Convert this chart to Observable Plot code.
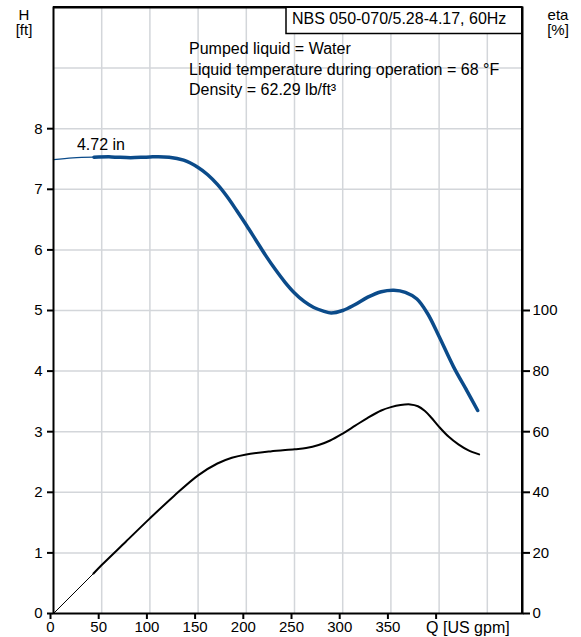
<!DOCTYPE html>
<html><head><meta charset="utf-8">
<script src="https://cdn.jsdelivr.net/npm/d3@7"></script>
<script src="https://cdn.jsdelivr.net/npm/@observablehq/plot@0.6"></script>
<style>
body{margin:0;background:#fff;}
#chart svg{display:block;}
</style></head><body><div id="chart"></div>
<script>
// ---- data ----
const headQThin = [0, 20, 42];
const headHThin = [7.49, 7.52, 7.53];
const headQ = [42, 60, 80, 100, 120, 135, 150, 160, 170, 180, 190, 200, 210, 220, 230, 240, 250, 260, 270, 280, 288, 300, 312, 326, 340, 353, 365, 377, 388, 400, 415, 429, 440];
const headH = [7.53, 7.535, 7.52, 7.535, 7.53, 7.48, 7.36, 7.24, 7.08, 6.88, 6.65, 6.41, 6.16, 5.91, 5.68, 5.47, 5.29, 5.15, 5.05, 4.99, 4.96, 5.0, 5.09, 5.22, 5.31, 5.335, 5.30, 5.19, 4.95, 4.57, 4.07, 3.67, 3.35];
const etaQThin = [0, 41.5];
const etaThin = [0, 13.2];
const etaQ = [41.5, 50, 75, 100, 125, 150, 170, 185, 200, 225, 250, 262, 275, 287, 300, 313, 326, 340, 350, 360, 370, 378, 385, 392, 400, 410, 420, 430, 441.5];
const eta = [13.2, 16.0, 23.7, 31.4, 38.8, 45.6, 49.5, 51.4, 52.5, 53.5, 54.2, 54.6, 55.6, 57.1, 59.4, 62.0, 64.6, 67.0, 68.1, 68.8, 69.0, 68.4, 66.9, 64.6, 61.6, 58.3, 55.8, 53.9, 52.5];

const xTicks = [0, 50, 100, 150, 200, 250, 300, 350, 400];
const xGrid = [50, 100, 150, 200, 250, 300, 350, 400, 450];
const xTitle = "Q [US gpm]";
const xTitleAt = 400;
const hTicks = [0, 1, 2, 3, 4, 5, 6, 7, 8];
const hGrid = [1, 2, 3, 4, 5, 6, 7, 8, 9];
const etaTicks = [0, 20, 40, 60, 80, 100];
const etaPerFt = 20; // eta axis: 100 % aligns with 5 ft
const xDomain = [0, 486.5];
const hDomain = [0, 10];

const curveLabel = "4.72 in";
const boxTitle = "NBS 050-070/5.28-4.17, 60Hz";
const infoLines = ["Pumped liquid = Water", "Liquid temperature during operation = 68 °F", "Density = 62.29 lb/ft³"];
const leftTitle = ["H", "[ft]"];
const rightTitle = ["eta", "[%]"];

const blue = "#0b4b8a";
const gridColor = "#d3d6da";
const font = "'Liberation Sans', Arial, sans-serif";

const headThin = headQThin.map((q, i) => ({q, h: headHThin[i]}));
const headThick = headQ.map((q, i) => ({q, h: headH[i]}));
const effThin = etaQThin.map((q, i) => ({q, e: etaThin[i]}));
const effThick = etaQ.map((q, i) => ({q, e: eta[i]}));

const W = 581, H = 637;
const mL = 53, mR = 59, mT = 7, mB = 24;

const plot = Plot.plot({
  width: W, height: H,
  marginLeft: mL, marginRight: mR, marginTop: mT, marginBottom: mB,
  style: {fontFamily: font, fontSize: "15px", background: "white", color: "black", overflow: "visible"},
  x: {domain: xDomain},
  y: {domain: hDomain},
  marks: [
    Plot.ruleX(xGrid, {stroke: gridColor, strokeWidth: 1.5}),
    Plot.ruleY(hGrid, {stroke: gridColor, strokeWidth: 1.5}),
    Plot.axisX({ticks: xTicks, tickFormat: d => d === xTitleAt ? "" : d, tickSize: 6, tickPadding: 2, strokeWidth: 2, dx: -3, label: null}),
    Plot.text([xTitle], {x: [xTitleAt], frameAnchor: "bottom", textAnchor: "start", lineAnchor: "top", dx: -13, dy: 8, fontSize: 16}),
    Plot.axisY({anchor: "left", ticks: hTicks, tickSize: 6, tickPadding: 5, strokeWidth: 2, label: null}),
    Plot.axisY({anchor: "right", ticks: etaTicks.map(e => e / etaPerFt), tickFormat: d => Math.round(d * etaPerFt), tickSize: 7, tickPadding: 3, strokeWidth: 2, label: null}),
    Plot.line(effThin, {x: "q", y: d => d.e / etaPerFt, stroke: "black", strokeWidth: 1}),
    Plot.line(effThick, {x: "q", y: d => d.e / etaPerFt, stroke: "black", strokeWidth: 2, curve: "catmull-rom"}),
    Plot.line(headThin, {x: "q", y: "h", stroke: blue, strokeWidth: 1.3, curve: "catmull-rom"}),
    Plot.line(headThick, {x: "q", y: "h", stroke: blue, strokeWidth: 3.5, curve: "catmull-rom"}),
    Plot.text([curveLabel], {x: [headQ[0]], y: [headH[0]], dx: 7, dy: -12, fontSize: 16, textAnchor: "middle"}),
    Plot.frame({stroke: "black", strokeWidth: 2})
  ]
});

const svg = d3.select(plot);
const right = W - mR;
// title box
svg.append("rect").attr("x", 286).attr("y", mT).attr("width", right - 286).attr("height", 26.5)
  .attr("fill", "white").attr("stroke", "black").attr("stroke-width", 1.5);
svg.append("line").attr("x1", mL).attr("x2", right).attr("y1", mT).attr("y2", mT).attr("stroke", "black").attr("stroke-width", 2);
svg.append("line").attr("x1", right).attr("x2", right).attr("y1", mT).attr("y2", H - mB).attr("stroke", "black").attr("stroke-width", 2);
svg.append("text").attr("x", 292).attr("y", 24).attr("text-anchor", "start").attr("font-size", 16).attr("font-family", font).attr("fill", "black").text(boxTitle);
// info lines
svg.selectAll("text.info").data(infoLines).join("text").attr("class", "info")
  .attr("x", 189).attr("y", (d, i) => 54 + i * 20.5).attr("text-anchor", "start").attr("font-size", 16).attr("font-family", font).attr("fill", "black").text(d => d);
// axis titles
svg.selectAll("text.lt").data(leftTitle).join("text").attr("class", "lt")
  .attr("x", 24).attr("y", (d, i) => 19.5 + i * 15.5).attr("text-anchor", "middle").attr("font-size", 15).attr("font-family", font).attr("fill", "black").text(d => d);
svg.selectAll("text.rt").data(rightTitle).join("text").attr("class", "rt")
  .attr("x", 558).attr("y", (d, i) => 19.5 + i * 15.5).attr("text-anchor", "middle").attr("font-size", 15).attr("font-family", font).attr("fill", "black").text(d => d);

document.getElementById("chart").appendChild(plot);
</script></body></html>
